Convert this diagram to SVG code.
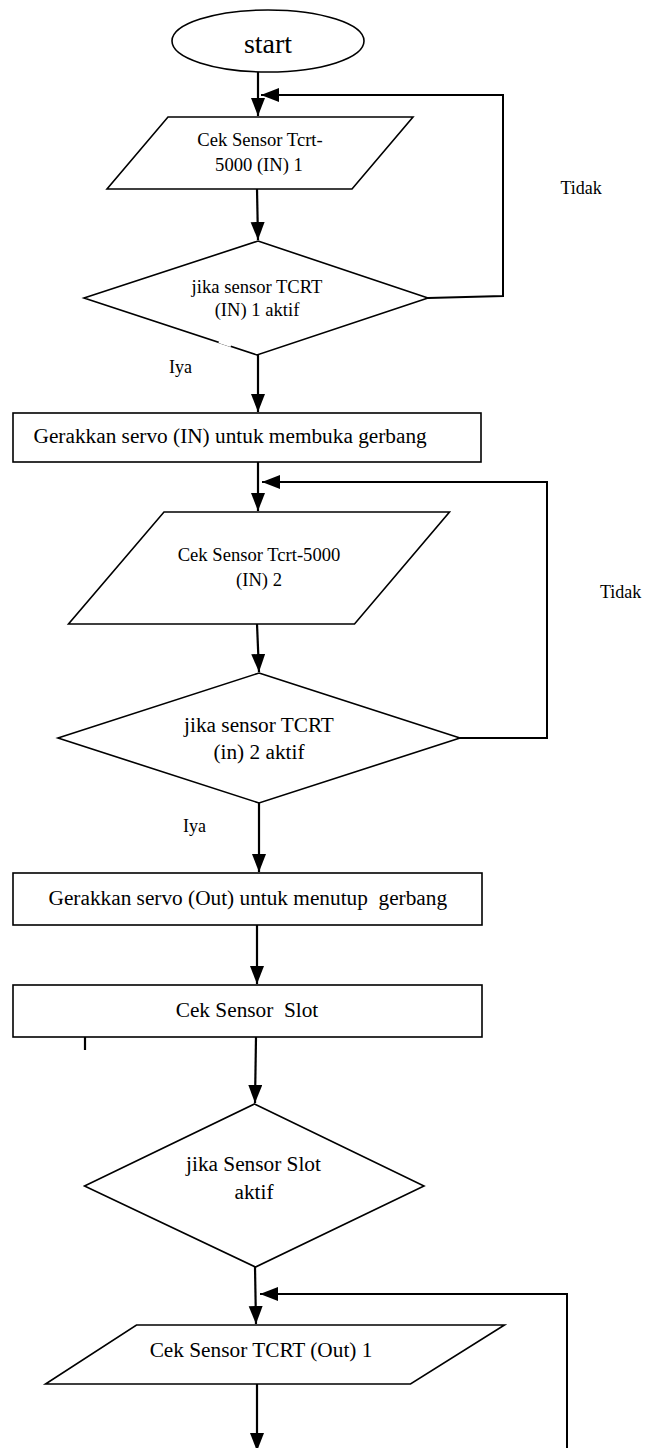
<svg xmlns="http://www.w3.org/2000/svg" width="646" height="1448" viewBox="0 0 646 1448">
<defs>
<style>
.shape{fill:#fff;stroke:#000;stroke-width:1.6}
.conn{fill:none;stroke:#000;stroke-width:2.2}
.fb{fill:none;stroke:#000;stroke-width:2}
text{font-family:"Liberation Serif","Times New Roman",serif;fill:#000}
.t18{font-size:18.6px}
.t21{font-size:21.3px}
.lbl{font-size:18px}
.mid{text-anchor:middle}
</style>
<marker id="ah" markerUnits="userSpaceOnUse" markerWidth="19" markerHeight="15" refX="18" refY="7" orient="auto">
<path d="M0,0 L18,7 L0,14 Z" fill="#000"/>
</marker>
</defs>
<rect width="646" height="1448" fill="#fff"/>

<g id="connectors">
<line class="conn" x1="258" y1="72" x2="258" y2="116" marker-end="url(#ah)"/>
<polyline class="fb" points="428,298 503,296 503,95 261,95" marker-end="url(#ah)"/>
<line class="conn" x1="257" y1="189" x2="258" y2="240" marker-end="url(#ah)"/>
<line class="conn" x1="258" y1="355" x2="258" y2="412" marker-end="url(#ah)"/>
<line class="conn" x1="258" y1="462" x2="258" y2="511" marker-end="url(#ah)"/>
<polyline class="fb" points="460,738 547,738 547,482 262,482" marker-end="url(#ah)"/>
<line class="conn" x1="257" y1="624" x2="259" y2="672" marker-end="url(#ah)"/>
<line class="conn" x1="259" y1="803" x2="259" y2="872" marker-end="url(#ah)"/>
<line class="conn" x1="257" y1="925" x2="257" y2="984" marker-end="url(#ah)"/>
<line class="conn" x1="256" y1="1037" x2="255" y2="1103" marker-end="url(#ah)"/>
<line class="conn" x1="255" y1="1267" x2="256" y2="1324" marker-end="url(#ah)"/>
<polyline class="fb" points="567,1448 567,1294 260,1294" marker-end="url(#ah)"/>
<line class="conn" x1="257" y1="1384" x2="257" y2="1451" marker-end="url(#ah)"/>
<line class="conn" x1="85" y1="1037" x2="85" y2="1050"/>
</g>

<g id="start">
<ellipse class="shape" cx="268" cy="41" rx="96" ry="31"/>
<text class="mid" x="268" y="53" style="font-size:28px">start</text>
</g>

<g id="input1">
<polygon class="shape" points="168,117 413,117 352,189 107,189"/>
<text class="t18 mid" x="260" y="146">Cek Sensor Tcrt-</text>
<text class="t18 mid" x="259" y="171">5000 (IN) 1</text>
</g>

<g id="decision1">
<polygon class="shape" points="258,241 428,298 257,355 84,298"/>
<line x1="219" y1="341.5" x2="231" y2="345.5" stroke="#fff" stroke-width="3"/>
<text class="t18 mid" x="257" y="293">jika sensor TCRT</text>
<text class="t18 mid" x="257" y="316">(IN) 1 aktif</text>
</g>

<g id="label-tidak1"><text class="lbl" x="560.5" y="194">Tidak</text></g>
<g id="label-iya1"><text class="lbl" x="169" y="373">Iya</text></g>

<g id="process1">
<rect class="shape" x="13" y="413" width="468" height="49"/>
<text class="t21" x="33.5" y="443">Gerakkan servo (IN) untuk membuka gerbang</text>
</g>

<g id="input2">
<polygon class="shape" points="164,512 449.5,512 354.5,624 68.5,624"/>
<text class="t18 mid" x="259" y="561">Cek Sensor Tcrt-5000</text>
<text class="t18 mid" x="259" y="586">(IN) 2</text>
</g>

<g id="label-tidak2"><text class="lbl" x="600" y="598">Tidak</text></g>

<g id="decision2">
<polygon class="shape" points="259,673 460,738 259,803 58,738"/>
<text class="t21 mid" x="259" y="732">jika sensor TCRT</text>
<text class="t21 mid" x="259" y="758.5">(in) 2 aktif</text>
</g>

<g id="label-iya2"><text class="lbl" x="183" y="832">Iya</text></g>

<g id="process2">
<rect class="shape" x="13" y="873" width="469" height="52"/>
<text class="t21" x="48.5" y="905" xml:space="preserve">Gerakkan servo (Out) untuk menutup  gerbang</text>
</g>

<g id="process3">
<rect class="shape" x="13" y="985" width="469" height="52"/>
<text class="t21 mid" x="247" y="1017" xml:space="preserve">Cek Sensor  Slot</text>
</g>

<g id="decision3">
<polygon class="shape" points="254.5,1104 424,1186 255.5,1267 84.5,1186"/>
<text class="t21 mid" x="253.5" y="1171">jika Sensor Slot</text>
<text class="t21 mid" x="254" y="1199">aktif</text>
</g>

<g id="input3">
<polygon class="shape" points="136.5,1325 504.5,1325 410.5,1384 45.5,1384"/>
<text class="t21 mid" x="261" y="1357">Cek Sensor TCRT (Out) 1</text>
</g>
</svg>
